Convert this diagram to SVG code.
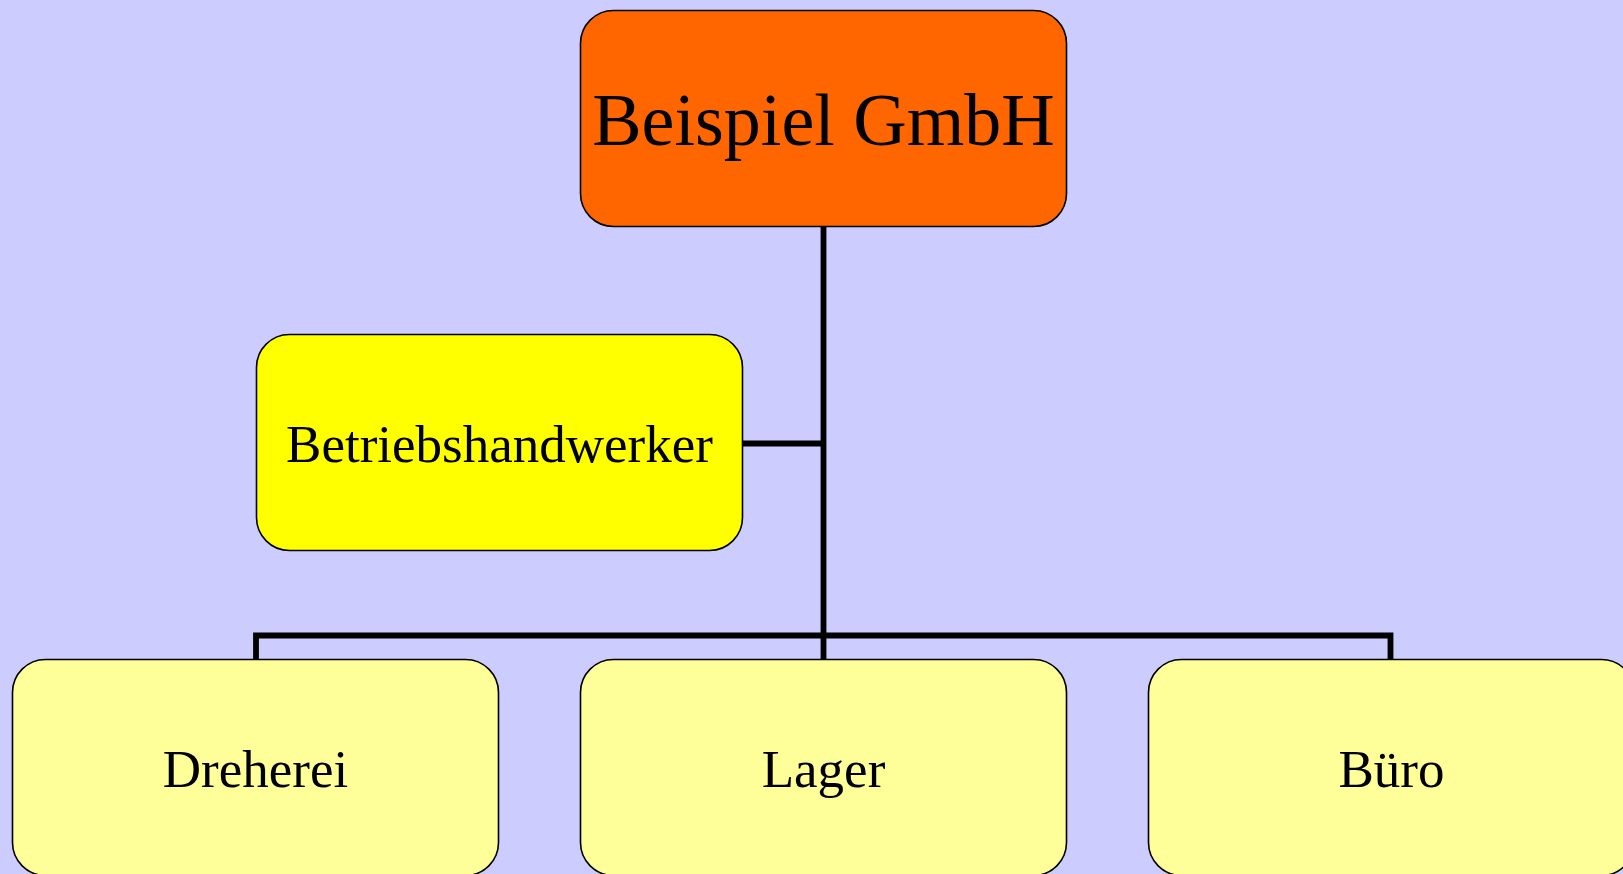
<svg xmlns="http://www.w3.org/2000/svg" width="1623" height="874" viewBox="0 0 1623 874">
<style>
.box{stroke:#000;stroke-width:1.6}
.lbl{font-family:"Liberation Serif","Times New Roman",serif;fill:#000;text-anchor:middle}
.conn{fill:none;stroke:#000;stroke-width:5.8;stroke-linejoin:miter}
</style>
<rect x="0" y="0" width="1623" height="874" fill="#CCCCFF"/>
<g id="connectors">
<path class="conn" d="M823.5,226 V659"/>
<path class="conn" d="M742,443.5 H823.5"/>
<path class="conn" d="M256,659 V635.5 H1390.5 V659"/>
</g>
<g id="node-top">
<rect class="box" x="580.5" y="10.5" width="486" height="216" rx="33" fill="#FF6600"/>
<text class="lbl" x="823.5" y="145" font-size="74">Beispiel GmbH</text>
</g>
<g id="node-betriebshandwerker">
<rect class="box" x="256.5" y="334.5" width="486" height="216" rx="33" fill="#FFFF00"/>
<text class="lbl" x="499.5" y="461.5" font-size="53">Betriebshandwerker</text>
</g>
<g id="node-dreherei">
<rect class="box" x="12.5" y="659.5" width="486" height="216" rx="33" fill="#FFFF99"/>
<text class="lbl" x="255.5" y="787" font-size="53">Dreherei</text>
</g>
<g id="node-lager">
<rect class="box" x="580.5" y="659.5" width="486" height="216" rx="33" fill="#FFFF99"/>
<text class="lbl" x="823.5" y="787" font-size="53">Lager</text>
</g>
<g id="node-buero">
<rect class="box" x="1148.5" y="659.5" width="486" height="216" rx="33" fill="#FFFF99"/>
<text class="lbl" x="1391.5" y="787" font-size="53">Büro</text>
</g>
</svg>
